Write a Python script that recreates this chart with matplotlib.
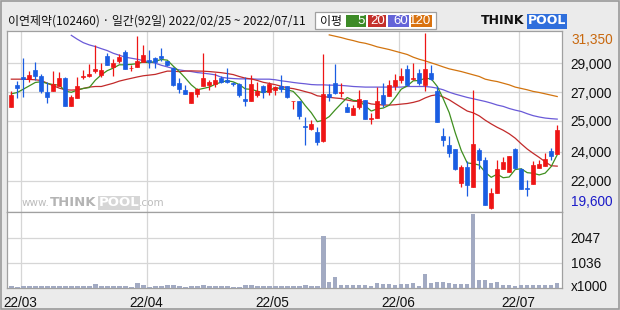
import numpy as np
import pandas as pd
import matplotlib
matplotlib.use("Agg")
import matplotlib.pyplot as plt
from matplotlib.patches import Rectangle
import matplotlib.transforms as mtransforms

plt.rcParams['font.family'] = ['Noto Sans CJK KR', 'DejaVu Sans']
NUM_FONT = ['Liberation Sans Narrow', 'Liberation Sans', 'DejaVu Sans']

# ---------------- data ----------------
title = "이연제약(102460) · 일간(92일) 2022/02/25 ~ 2022/07/11"
start_date, end_date = "2022-02-25", "2022-07-11"
holidays = ["2022-03-01", "2022-03-09", "2022-05-05", "2022-06-01", "2022-06-06"]

opens = [26400, 27900, 28400, 28300, 28900, 28500, 27400, 27500, 27850, 28350,
         26500, 27050, 28400, 28500, 28800, 28550, 29850, 29100, 29500, 30100,
         29000, 29100, 29400, 29550, 29700, 29850, 29500, 29050, 28000, 27550,
         26700, 27300, 27800, 27900, 27950, 28350, 28250, 28050, 27950, 26950,
         26850, 27200, 27850, 27400, 27550, 27800, 27800, 26800, 26800, 25150,
         24950, 24750, 24150, 27300, 28050, 27350, 26450, 25900, 26450, 26900,
         25650, 25700, 27200, 27150, 27850, 28250, 28950, 28300, 28700, 27900,
         28700, 27500, 24500, 23900, 23600, 21350, 22400, 21100, 23550, 22900,
         19650, 20700, 22250, 22100, 23600, 22300, 21000, 21300, 22350, 22500,
         23500, 23300]
highs = [27500, 28150, 29700, 28800, 29400, 28600, 28100, 28850, 28750, 28450,
         27250, 28450, 28900, 29300, 30550, 29350, 30000, 29600, 29950, 30250,
         29200, 31150, 30550, 30250, 29750, 30350, 29500, 29100, 28350, 27900,
         27400, 27700, 30050, 28250, 28700, 28500, 29000, 28100, 28050, 28450,
         28550, 28100, 27900, 28100, 27800, 28550, 27850, 26850, 26850, 25750,
         25550, 25100, 29950, 27950, 29300, 28000, 26700, 26550, 27550, 26900,
         26000, 27750, 28050, 28250, 28650, 29050, 29250, 29350, 28950, 31350,
         29250, 27800, 25000, 24500, 23600, 22550, 22800, 27550, 23700, 23100,
         21000, 22900, 23100, 23150, 23700, 22350, 21550, 22800, 22900, 23350,
         23700, 25200]
lows = [26400, 27000, 27100, 28100, 28250, 27350, 26700, 27500, 27850, 26500,
        26500, 27050, 28300, 28450, 28700, 28450, 29250, 28500, 29350, 28950,
        28850, 29100, 29400, 29000, 29000, 29500, 29150, 27800, 27350, 27300,
        26700, 27100, 27800, 27550, 27750, 28050, 28050, 27800, 27100, 26500,
        26850, 27100, 27050, 27200, 27200, 27450, 27050, 26300, 25650, 23900,
        24900, 23900, 24100, 26800, 27300, 27100, 26100, 25900, 26300, 25650,
        25300, 25700, 26400, 27150, 27550, 28000, 27900, 28250, 27900, 27500,
        28250, 25400, 23800, 23100, 22200, 21100, 20450, 21100, 22300, 19850,
        19600, 20700, 22250, 22050, 22250, 20950, 20450, 21300, 22350, 22500,
        22850, 23300]
closes = [27250, 27700, 28300, 28550, 28500, 27500, 27100, 27950, 28350, 26500,
          27100, 27850, 28500, 28650, 28950, 28900, 29250, 29350, 29750, 28950,
          29050, 29500, 29900, 29450, 29450, 29700, 29250, 27900, 27650, 27300,
          27400, 27600, 28350, 28100, 28250, 28100, 28100, 27950, 27200, 26800,
          27950, 27500, 27400, 27950, 27750, 27650, 27100, 26850, 25850, 25100,
          25300, 24100, 27300, 27100, 27350, 27400, 26100, 26350, 26950, 25650,
          25700, 26800, 26650, 27900, 28200, 28500, 27900, 28350, 28000, 28950,
          28300, 25400, 24200, 23350, 22250, 22400, 21200, 23950, 22900, 19850,
          20700, 22250, 22750, 23150, 22350, 20950, 20950, 22550, 22600, 22950,
          23150, 24850]
volumes = [100, 60, 90, 70, 80, 70, 80, 75, 75, 80,
           80, 80, 80, 80, 180, 70, 80, 80, 80, 80,
           60, 220, 140, 60, 80, 95, 110, 140, 70, 60,
           80, 80, 140, 80, 95, 80, 95, 60, 60, 110,
           140, 95, 95, 95, 95, 95, 95, 95, 95, 140,
           70, 95, 2130, 260, 430, 140, 140, 110, 140, 140,
           80, 220, 150, 180, 140, 165, 180, 220, 95, 590,
           190, 260, 230, 190, 180, 165, 180, 3010, 340, 340,
           190, 260, 120, 110, 95, 140, 110, 140, 140, 110,
           110, 220]  # x1000 shares

# moving-average values visible before enough candles exist in the window
ma5_head = [27300, 27390, 27610, 27835]
ma20_head = [28280, 28280, 28280, 28260, 28240, 28190, 28010, 27840, 27680, 27570,
             27550, 27570, 27660, 27750, 27790, 27790, 27900, 28010, 28150]
nan = np.nan
ma60 = [nan] * 10 + [
    31210, 30950, 30720, 30570, 30460, 30320, 30190, 30010, 29880, 29750,
    29680, 29610, 29520, 29440, 29350, 29210, 29100, 28990, 28900, 28840,
    28790, 28720, 28680, 28630, 28570, 28410, 28350, 28320, 28300, 28300,
    28300, 28280, 28280, 28280, 28240, 28170, 28120, 28060, 28010, 27970,
    27920, 27900, 27900, 27880, 27880, 27860, 27830, 27790, 27770, 27750,
    27750, 27750, 27750, 27750, 27750, 27750, 27790, 27790, 27790, 27790,
    27750, 27680, 27570, 27410, 27280, 27170, 27060, 26970, 26880, 26790,
    26680, 26550, 26460, 26320, 26210, 26120, 25970, 25840, 25750, 25680,
    25640, 25610]
ma120 = [nan] * 53 + [
    31240, 31150, 31060, 30950, 30860, 30750, 30680, 30570, 30440, 30350,
    30260, 30150, 30040, 29930, 29750, 29610, 29500, 29370, 29240, 29100,
    28970, 28880, 28790, 28680, 28570, 28460, 28280, 28190, 28120, 28010,
    27900, 27750, 27660, 27570, 27460, 27390, 27300, 27210, 27120]

price_grid_labels = ["29,000", "27,000", "25,000", "24,000", "22,000"]
price_grid_values = [29340, 27400, 25500, 23430, 21490]
vol_ticks = [1036, 2047]
legend_items = [("5", "#3d8b27"), ("20", "#c4302b"), ("60", "#6464d8"), ("120", "#d9720f")]

# ---------------- derived ----------------
dates = pd.bdate_range(start_date, end_date)
dates = dates[~dates.isin(pd.to_datetime(holidays))]
n = len(dates)
idx = np.arange(n)
o = np.array(opens, float); h = np.array(highs, float)
l = np.array(lows, float); c = np.array(closes, float)

ma5 = pd.Series(c).rolling(5).mean().to_numpy()
ma5[:len(ma5_head)] = ma5_head
ma20 = pd.Series(c).rolling(20).mean().to_numpy()
ma20[:len(ma20_head)] = ma20_head

UP, DOWN = "#ee1515", "#1a5de2"
cols = [UP if cc >= oo else DOWN for oo, cc in zip(o, c)]

month_first = [i for i in range(1, n) if dates[i].month != dates[i - 1].month]
month_labels = [dates[i].strftime("%y/%m") for i in month_first]

# ---------------- figure ----------------
W, H = 620, 310
fig = plt.figure(figsize=(W / 100, H / 100), dpi=100, facecolor="#ebebeb")


def rect(left, top, right, bottom):
    return [left / W, 1 - bottom / H, (right - left) / W, (bottom - top) / H]


axp = fig.add_axes(rect(7.3, 31, 562, 212))
axv = fig.add_axes(rect(7.3, 212, 562, 288), sharex=axp)

GRID = "#d6d6d6"
for ax in (axp, axv):
    ax.set_facecolor("white")
    for s in ax.spines.values():
        s.set_color("#a0a0a0")
        s.set_linewidth(0.9)
    ax.tick_params(length=0)
    ax.yaxis.tick_right()
    for xv in month_first:
        ax.axvline(xv - 0.45, color=GRID, lw=0.9, zorder=0)

# price pane
axp.set_xlim(-0.67, n - 0.2)
axp.set_ylim(19400, 31500)
for gv in price_grid_values:
    axp.axhline(gv, color=GRID, lw=0.9, zorder=0)
axp.set_yticks(price_grid_values)
axp.set_yticklabels(price_grid_labels, family=NUM_FONT, fontsize=9.8, color="#111111")
axp.tick_params(axis="y", pad=6.3)
axp.tick_params(axis="x", labelbottom=False)

axp.vlines(idx, l, h, colors=cols, linewidth=0.9, zorder=3)
axp.bar(idx, np.abs(c - o), bottom=np.minimum(o, c), width=0.72, color=cols,
        edgecolor=cols, linewidth=0.5, zorder=4)

axp.plot(idx, ma120, color="#d2740f", lw=0.9, zorder=2)
axp.plot(idx, ma60, color="#6a5ad8", lw=0.9, zorder=2)
axp.plot(idx, ma20, color="#c22a2a", lw=0.9, zorder=2)
axp.plot(idx, ma5, color="#3f8f1f", lw=0.9, zorder=2)

tr = mtransforms.blended_transform_factory(axp.transAxes, axp.transData)
axp.text(1.0 + 9 / 554.7, h.max(), f"{int(h.max()):,}", transform=tr, ha="left", va="top",
         family=NUM_FONT, fontsize=9.8, color="#c8680e", clip_on=False)
axp.text(1.0 + 9 / 554.7, l.min(), f"{int(l.min()):,}", transform=tr, ha="left", va="bottom",
         family=NUM_FONT, fontsize=9.8, color="#1a1ac8", clip_on=False)

# watermark
wm = dict(transform=axp.transAxes, va="center", zorder=1)
axp.text(0.026, 0.05, "www.", color="#bcbcbc", fontsize=7.5, family="DejaVu Sans", ha="left", **wm)
axp.text(0.076, 0.05, "THINK", color="#b4b4b4", fontsize=9.5, weight="bold", family="DejaVu Sans", ha="left", **wm)
axp.text(0.165, 0.05, "POOL", color="white", fontsize=9.5, weight="bold", family="DejaVu Sans", ha="left",
         bbox=dict(boxstyle="square,pad=0.05", fc="#d6d6d6", ec="none"), **wm)
axp.text(0.238, 0.05, ".com", color="#bcbcbc", fontsize=7.5, family="DejaVu Sans", ha="left", **wm)

# volume pane
axv.set_ylim(0, 3100)
for vt in vol_ticks:
    axv.axhline(vt, color=GRID, lw=0.9, zorder=0)
axv.bar(idx, volumes, width=0.75, color="#a2aac2", zorder=3)
axv.set_yticks(vol_ticks)
axv.set_yticklabels([str(v) for v in vol_ticks], family=NUM_FONT, fontsize=9.8, color="#111111")
axv.tick_params(axis="y", pad=6.3)
trv = mtransforms.blended_transform_factory(axv.transAxes, axv.transData)
axv.text(1.0 + 9 / 554.7, 60, "x1000", transform=trv, ha="left", va="center",
         family=NUM_FONT, fontsize=9.8, color="#111111", clip_on=False)
axv.set_xticks([m - 0.45 for m in month_first])
axv.set_xticklabels(month_labels, family=NUM_FONT, fontsize=9.8, color="#111111")
axv.tick_params(axis="x", pad=6)

# ---------------- header overlay ----------------
ov = fig.add_axes([0, 0, 1, 1], zorder=10)
ov.set_xlim(0, W); ov.set_ylim(H, 0); ov.axis("off"); ov.patch.set_alpha(0)
ov.add_patch(Rectangle((1, 1), W - 2.5, H - 2.5, fill=False, ec="#9a9a9a", lw=1.2))
ov.text(8, 21, title, fontsize=8.6, color="#111111", va="center", ha="left")

ov.add_patch(Rectangle((315, 12.3), 121, 17, fc="white", ec="#a0a0a0", lw=0.9))
ov.text(320, 21, "이평", fontsize=8.6, color="#111111", va="center", ha="left")
box_x = [346, 368, 388, 411]
box_w = [20, 18, 21, 21]
for (lab, colr), bx, bw in zip(legend_items, box_x, box_w):
    ov.add_patch(Rectangle((bx, 15), bw, 12.3, fc=colr, ec="none"))
    ov.text(bx + bw - 1, 21.3, lab, family=NUM_FONT, fontsize=9.5, color="white", va="center", ha="right")

ov.text(481, 21, "THINK", family="DejaVu Sans", fontsize=9, weight="bold", color="#111111",
        va="center", ha="left")
ov.text(528, 21, "POOL", family="DejaVu Sans", fontsize=9, weight="bold", color="white",
        va="center", ha="left", bbox=dict(boxstyle="square,pad=0.08", fc="#2f6fdc", ec="none"))

fig.savefig("out.png", dpi=100, facecolor=fig.get_facecolor())
